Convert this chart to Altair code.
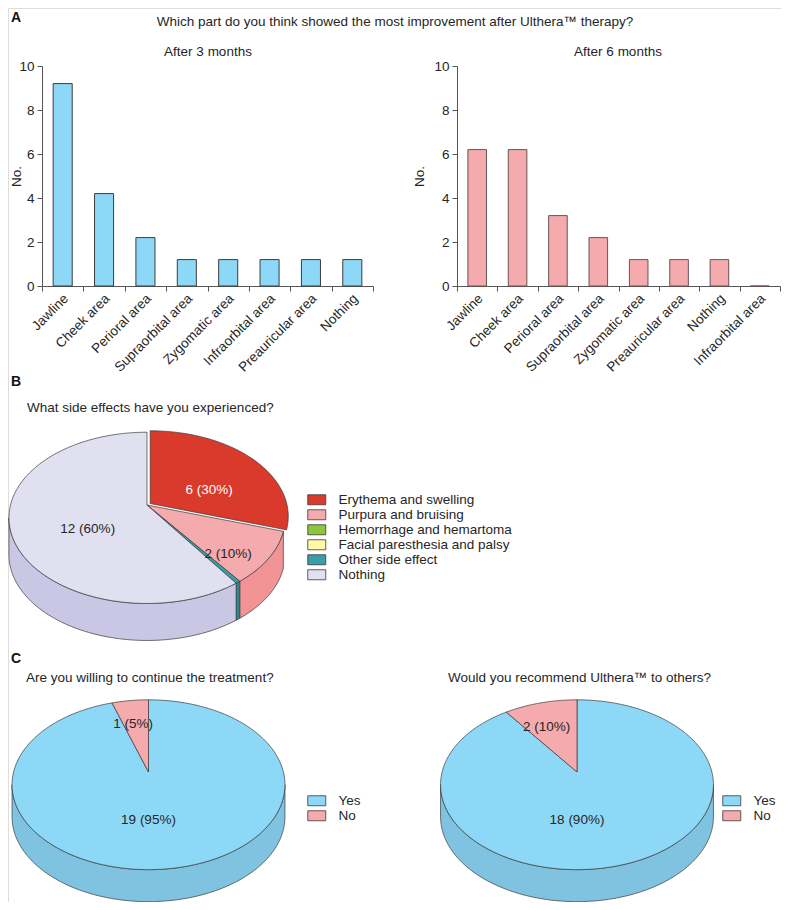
import math
import altair as alt
import pandas as pd

# ---------------- data ----------------
regions_3m = ["Jawline", "Cheek area", "Perioral area", "Supraorbital area",
              "Zygomatic area", "Infraorbital area", "Preauricular area", "Nothing"]
counts_3m = [9.2, 4.2, 2.2, 1.2, 1.2, 1.2, 1.2, 1.2]

regions_6m = ["Jawline", "Cheek area", "Perioral area", "Supraorbital area",
              "Zygomatic area", "Preauricular area", "Nothing", "Infraorbital area"]
counts_6m = [6.2, 6.2, 3.2, 2.2, 1.2, 1.2, 1.2, 0.0]

side_effects = ["Erythema and swelling", "Purpura and bruising", "Hemorrhage and hemartoma",
                "Facial paresthesia and palsy", "Other side effect", "Nothing"]
side_effect_counts = [6, 2, 0, 0, 0.1, 12]

answers = ["Yes", "No"]
continue_counts = [19, 1]
recommend_counts = [18, 2]

title_main = "Which part do you think showed the most improvement after Ulthera\u2122 therapy?"
title_3m = "After 3 months"
title_6m = "After 6 months"
title_b = "What side effects have you experienced?"
title_c1 = "Are you willing to continue the treatment?"
title_c2 = "Would you recommend Ulthera\u2122 to others?"

# ---------------- style ----------------
FONT = "Liberation Sans"
FS = 13.5
TXT = "#262626"
AX = "#555555"
LINE = "#3a3a3a"
W, H = 773, 894

BLUE_BAR = "#8ed8f7"
PINK_BAR = "#f5aaad"
se_top = ["#d93a2b", "#f5aaad", "#8cc63f", "#fff8a8", "#3a9ea6", "#e1e0f0"]
se_side = ["#c43326", "#f29395", "#76a835", "#e6df90", "#2e8890", "#c9c7e3"]
yn_top = ["#8ed8f7", "#f5aaad"]
yn_side = ["#7fc3e0", "#e89497"]

K = 0.15  # perspective factor of the tilted pies

PX = alt.Scale(domain=[0, W], range=[0, W], nice=False, zero=False)
PY = alt.Scale(domain=[0, H], range=[0, H], nice=False, zero=False)


def bar_layer(cats, vals, x0, x1, fill, stroke, title_x):
    df = pd.DataFrame({"region": cats, "count": vals})
    return alt.Chart(df).mark_bar(
        fill=fill, stroke=stroke, strokeWidth=1, width=alt.RelativeBandSize(0.46)
    ).encode(
        x=alt.X("region:N", sort=cats, title=None,
                scale=alt.Scale(range=[x0, x1], paddingInner=0, paddingOuter=0),
                axis=alt.Axis(orient="bottom", offset=278 - H, tickBand="extent",
                              labelAngle=-45, labelAlign="right", labelBaseline="middle",
                              labelPadding=5, labelOffset=3, tickSize=5, labelFontSize=FS,
                              labelColor=TXT, labelFont=FONT, domainColor=AX, tickColor=AX,
                              grid=False, labelLimit=300)),
        y=alt.Y("count:Q", title="No.",
                scale=alt.Scale(domain=[0, 10], range=[278, 58], nice=False, zero=True),
                axis=alt.Axis(orient="left", offset=-x0, values=[0, 2, 4, 6, 8, 10],
                              tickSize=5, labelPadding=3, labelFontSize=FS, labelColor=TXT,
                              labelFont=FONT, domainColor=AX, tickColor=AX, grid=False,
                              titleFont=FONT, titleFontSize=FS, titleFontWeight="normal",
                              titleColor=TXT, titleX=title_x)),
    )


def proj(apex, A, B, phi, r=1.0):
    p = math.radians(phi)
    u, v = r * math.sin(p), r * math.cos(p)
    den = 1.0 + K * v
    return apex[0] + A * u / den, apex[1] - B * v / den


def arc(apex, A, B, a0, a1, dx=0.0, dy=0.0):
    n = max(2, int(math.ceil(abs(a1 - a0))) + 1)
    out = []
    for j in range(n):
        px, py = proj(apex, A, B, a0 + (a1 - a0) * j / (n - 1))
        out.append((px + dx, py + dy))
    return out


def pie_frames(cats, vals, apex, A, B, depth, explode):
    total = float(sum(vals))
    phi_r = math.degrees(math.acos(-K))
    phi_l = 360.0 - phi_r
    # outline ellipse of the tilted disc
    ecx, ecy = apex[0], apex[1] + B * K / (1 - K * K)
    ea, eb = A / math.sqrt(1 - K * K), B / (1 - K * K)
    top, side, labels = [], [], []
    a0 = 0.0
    for c, v, ex in zip(cats, vals, explode):
        a1 = a0 + 360.0 * v / total
        if v > 0:
            mid = 0.5 * (a0 + a1)
            mx, my = proj(apex, A, B, mid)
            d = math.hypot(mx - apex[0], my - apex[1]) or 1.0
            ox, oy = ex * (mx - apex[0]) / d, ex * (my - apex[1]) / d
            pts = [(apex[0] + ox, apex[1] + oy)] + arc(apex, A, B, a0, a1, ox, oy)
            top += [dict(slice=c, i=j, x=p[0], y=p[1]) for j, p in enumerate(pts)]
            s, e = max(a0, phi_r), min(a1, phi_l)
            if e > s and ex == 0:
                up = arc(apex, A, B, s, e)
                lo = [(p[0], p[1] + depth) for p in reversed(up)]
                side += [dict(slice=c, i=j, x=p[0], y=p[1]) for j, p in enumerate(up + lo)]
            if v >= 1:
                share = v / total
                if share >= 0.85:
                    lx, ly = ecx, ecy + 35
                else:
                    r = 0.45 if share > 0.5 else (0.53 if share > 0.2 else 0.72)
                    m = math.radians(mid)
                    lx = ecx + ea * r * math.sin(m) + ox
                    ly = ecy - eb * r * math.cos(m) + oy
                n = int(v) if float(v).is_integer() else v
                labels.append(dict(slice=c, x=lx, y=ly,
                                   text=f"{n} ({round(100 * v / total)}%)"))
        a0 = a1
    return pd.DataFrame(top), pd.DataFrame(side), pd.DataFrame(labels)


SYM = "M-1.8,-1L1.8,-1L1.8,1L-1.8,1Z"


def pie_layers(cats, vals, top_colors, side_colors, geom, lx, ly, white_slice=None):
    top_df, side_df, lab_df = pie_frames(cats, vals, **geom)
    enc = dict(x=alt.X("x:Q", scale=PX, axis=None), y=alt.Y("y:Q", scale=PY, axis=None),
               order=alt.Order("i:Q"))
    side = alt.Chart(side_df).mark_line(
        interpolate="linear-closed", stroke=LINE, strokeWidth=0.7, strokeJoin="round"
    ).encode(fill=alt.Fill("slice:N", scale=alt.Scale(domain=cats, range=side_colors),
                           legend=None), **enc)
    top = alt.Chart(top_df).mark_line(
        interpolate="linear-closed", stroke=LINE, strokeWidth=0.7, strokeJoin="round"
    ).encode(fill=alt.Fill("slice:N", scale=alt.Scale(domain=cats, range=top_colors),
                           legend=alt.Legend(title=None, orient="none", legendX=lx, legendY=ly,
                                             symbolType=SYM, symbolSize=100,
                                             symbolStrokeColor=LINE, symbolStrokeWidth=0.8,
                                             symbolOpacity=1, labelFont=FONT, labelFontSize=FS,
                                             labelColor=TXT, labelOffset=15, rowPadding=0,
                                             padding=0, labelLimit=300)), **enc)
    if white_slice:
        col = alt.condition(alt.datum.slice == white_slice, alt.value("white"), alt.value(TXT))
    else:
        col = alt.value(TXT)
    labels = alt.Chart(lab_df).mark_text(
        font=FONT, fontSize=FS, align="center", baseline="middle"
    ).encode(x=alt.X("x:Q", scale=PX, axis=None), y=alt.Y("y:Q", scale=PY, axis=None),
             text="text:N", color=col)
    return [side, top, labels]


def text_layer(txt, x, y, size=FS, bold=False, align="left", baseline="middle"):
    return alt.Chart(pd.DataFrame({"t": [txt]})).mark_text(
        font=FONT, fontSize=size, fontWeight="bold" if bold else "normal",
        color="#111111" if bold else TXT, align=align, baseline=baseline
    ).encode(text="t:N", x=alt.value(x), y=alt.value(y))


layers = [
    bar_layer(regions_3m, counts_3m, 34, 365, BLUE_BAR, "#3c3c3c", -19),
    bar_layer(regions_6m, counts_6m, 449, 772, PINK_BAR, "#6a5454", -31),
]

geom_b = dict(apex=(139, 497), A=136.5, B=83.7, depth=37, explode=[3.5, 0, 0, 0, 0, 0])
geom_c1 = dict(apex=(140.5, 764), A=134.9, B=83, depth=32, explode=[0, 0])
geom_c2 = dict(apex=(569, 764), A=134.9, B=83, depth=32, explode=[0, 0])

layers += pie_layers(side_effects, side_effect_counts, se_top, se_side, geom_b, 302, 485,
                     white_slice="Erythema and swelling")
layers += pie_layers(answers, continue_counts, yn_top, yn_side, geom_c1, 302, 786)
layers += pie_layers(answers, recommend_counts, yn_top, yn_side, geom_c2, 717, 786)

layers += [
    text_layer("A", 3, 3, size=14, bold=True, baseline="top"),
    text_layer(title_main, 387, 14, align="center"),
    text_layer(title_3m, 200, 44, align="center"),
    text_layer(title_6m, 610, 44, align="center"),
    text_layer("B", 3, 367, size=14, bold=True, baseline="top"),
    text_layer(title_b, 19, 400),
    text_layer("C", 3, 644, size=14, bold=True, baseline="top"),
    text_layer(title_c1, 18, 670),
    text_layer(title_c2, 440, 670),
]

chart = alt.layer(*layers).resolve_scale(
    x="independent", y="independent", fill="independent", color="independent"
).resolve_axis(x="independent", y="independent").resolve_legend(
    fill="independent", color="independent"
).properties(
    width=W, height=H, padding=0, autosize=alt.AutoSizeParams(type="none")
).configure_view(stroke=None).configure(font=FONT)

chart.save("out.html", embed_options={"renderer": "svg", "actions": False})
